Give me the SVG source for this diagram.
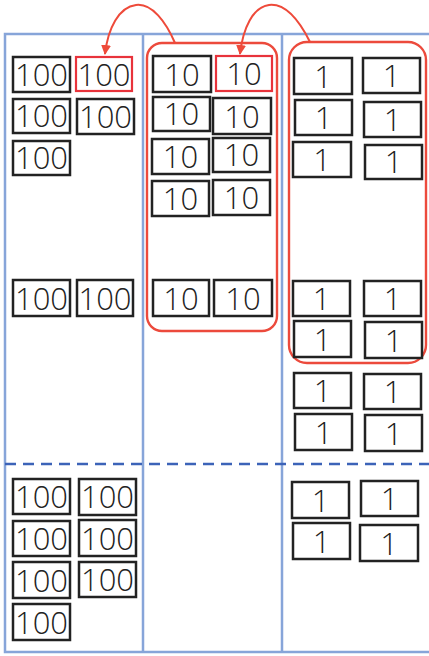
<svg xmlns="http://www.w3.org/2000/svg" width="429" height="656" viewBox="0 0 429 656">
<style>
.b{fill:#fff;stroke:#222;stroke-width:2.5}
.r{fill:#fff;stroke:#e8333b;stroke-width:2.2}
.g{fill:none;stroke:#ec4a3c;stroke-width:2.4}
.f{fill:none;stroke:#87a5d9;stroke-width:2.5}
.d{fill:none;stroke:#3c63b8;stroke-width:2.5;stroke-dasharray:11 7}
.c{fill:none;stroke:#ee4a3a;stroke-width:2}
text{font-family:"Open Sans","Liberation Sans",Arial,sans-serif;font-weight:300;font-size:31px;fill:#222;text-anchor:middle}
</style>
<defs>
<marker id="ah" markerWidth="10" markerHeight="10" refX="9" refY="5" orient="auto" markerUnits="userSpaceOnUse">
<path d="M0,0 L10,5 L0,10 Z" fill="#ee4a3a"/>
</marker>
</defs>
<g id="frame">
<path class="f" d="M429,34 H5 V652 H429"/>
<path class="f" d="M143,34 V652 M282,34 V652"/>
<path class="d" d="M5,464 H429"/>
</g>
<g id="group10"><rect class="g" x="147" y="43" width="130" height="288" rx="15"/></g>
<g id="group1"><rect class="g" x="289" y="42" width="137" height="321" rx="18"/></g>
<g id="c1">
<g id="h1"><rect class="b" x="13" y="57" width="57" height="35"/><text x="41.5" y="86">100</text></g>
<g id="h2"><rect class="r" x="76" y="57" width="56" height="34"/><text x="104" y="86">100</text></g>
<g id="h3"><rect class="b" x="13" y="99" width="57" height="34"/><text x="41.5" y="127">100</text></g>
<g id="h4"><rect class="b" x="77" y="99" width="57" height="35"/><text x="105.5" y="128">100</text></g>
<g id="h5"><rect class="b" x="13" y="141" width="57" height="34"/><text x="41.5" y="169">100</text></g>
<g id="h6"><rect class="b" x="13" y="280" width="57" height="36"/><text x="41.5" y="310">100</text></g>
<g id="h7"><rect class="b" x="77" y="280" width="56" height="36"/><text x="105" y="310">100</text></g>
<g id="h8"><rect class="b" x="13" y="479" width="57" height="35"/><text x="41.5" y="508">100</text></g>
<g id="h9"><rect class="b" x="79" y="479" width="57" height="36"/><text x="107.5" y="508">100</text></g>
<g id="h10"><rect class="b" x="13" y="521" width="57" height="35"/><text x="41.5" y="550">100</text></g>
<g id="h11"><rect class="b" x="79" y="520" width="57" height="36"/><text x="107.5" y="550">100</text></g>
<g id="h12"><rect class="b" x="13" y="562" width="57" height="36"/><text x="41.5" y="592">100</text></g>
<g id="h13"><rect class="b" x="79" y="562" width="57" height="35"/><text x="107.5" y="591">100</text></g>
<g id="h14"><rect class="b" x="13" y="604" width="57" height="36"/><text x="41.5" y="634">100</text></g>
</g>
<g id="c2">
<g id="t1"><rect class="b" x="153" y="56" width="58" height="36"/><text x="182" y="86">10</text></g>
<g id="t2"><rect class="r" x="216" y="56" width="56" height="35"/><text x="244" y="85">10</text></g>
<g id="t3"><rect class="b" x="153" y="97" width="57" height="34"/><text x="181.5" y="125">10</text></g>
<g id="t4"><rect class="b" x="213" y="98" width="58" height="36"/><text x="242" y="128">10</text></g>
<g id="t5"><rect class="b" x="152" y="139" width="57" height="35"/><text x="180.5" y="168">10</text></g>
<g id="t6"><rect class="b" x="213" y="138" width="57" height="34"/><text x="241.5" y="166">10</text></g>
<g id="t7"><rect class="b" x="152" y="181" width="57" height="35"/><text x="180.5" y="210">10</text></g>
<g id="t8"><rect class="b" x="213" y="180" width="57" height="35"/><text x="241.5" y="209">10</text></g>
<g id="t9"><rect class="b" x="153" y="280" width="56" height="36"/><text x="181" y="310">10</text></g>
<g id="t10"><rect class="b" x="214" y="280" width="58" height="36"/><text x="243" y="310">10</text></g>
</g>
<g id="c3">
<g id="o1"><rect class="b" x="294" y="58" width="58" height="36"/><text x="323" y="88">1</text></g>
<g id="o2"><rect class="b" x="363" y="58" width="57" height="35"/><text x="391.5" y="87">1</text></g>
<g id="o3"><rect class="b" x="295" y="100" width="57" height="35"/><text x="323.5" y="129">1</text></g>
<g id="o4"><rect class="b" x="364" y="102" width="57" height="35"/><text x="392.5" y="131">1</text></g>
<g id="o5"><rect class="b" x="293" y="142" width="58" height="35"/><text x="322" y="171">1</text></g>
<g id="o6"><rect class="b" x="365" y="145" width="57" height="34"/><text x="393.5" y="173">1</text></g>
<g id="o7"><rect class="b" x="293" y="281" width="57" height="35"/><text x="321.5" y="310">1</text></g>
<g id="o8"><rect class="b" x="364" y="281" width="57" height="35"/><text x="392.5" y="310">1</text></g>
<g id="o9"><rect class="b" x="294" y="321" width="57" height="36"/><text x="322.5" y="351">1</text></g>
<g id="o10"><rect class="b" x="365" y="322" width="57" height="36"/><text x="393.5" y="352">1</text></g>
<g id="o11"><rect class="b" x="294" y="373" width="57" height="35"/><text x="322.5" y="402">1</text></g>
<g id="o12"><rect class="b" x="364" y="374" width="57" height="35"/><text x="392.5" y="403">1</text></g>
<g id="o13"><rect class="b" x="295" y="414" width="57" height="36"/><text x="323.5" y="444">1</text></g>
<g id="o14"><rect class="b" x="365" y="415" width="57" height="36"/><text x="393.5" y="445">1</text></g>
<g id="o15"><rect class="b" x="292" y="482" width="57" height="36"/><text x="320.5" y="512">1</text></g>
<g id="o16"><rect class="b" x="361" y="481" width="57" height="35"/><text x="389.5" y="510">1</text></g>
<g id="o17"><rect class="b" x="293" y="523" width="57" height="36"/><text x="321.5" y="553">1</text></g>
<g id="o18"><rect class="b" x="360" y="525" width="58" height="36"/><text x="389" y="555">1</text></g>
</g>
<g id="connectors">
<path class="c" marker-end="url(#ah)" d="M175,43 C166,22 152,3 136,5 C119,7 108,28 105,54"/>
<path class="c" marker-end="url(#ah)" d="M310,42 C300,22 286,3 269,5 C253,7 243,28 240,54"/>
</g>
</svg>
